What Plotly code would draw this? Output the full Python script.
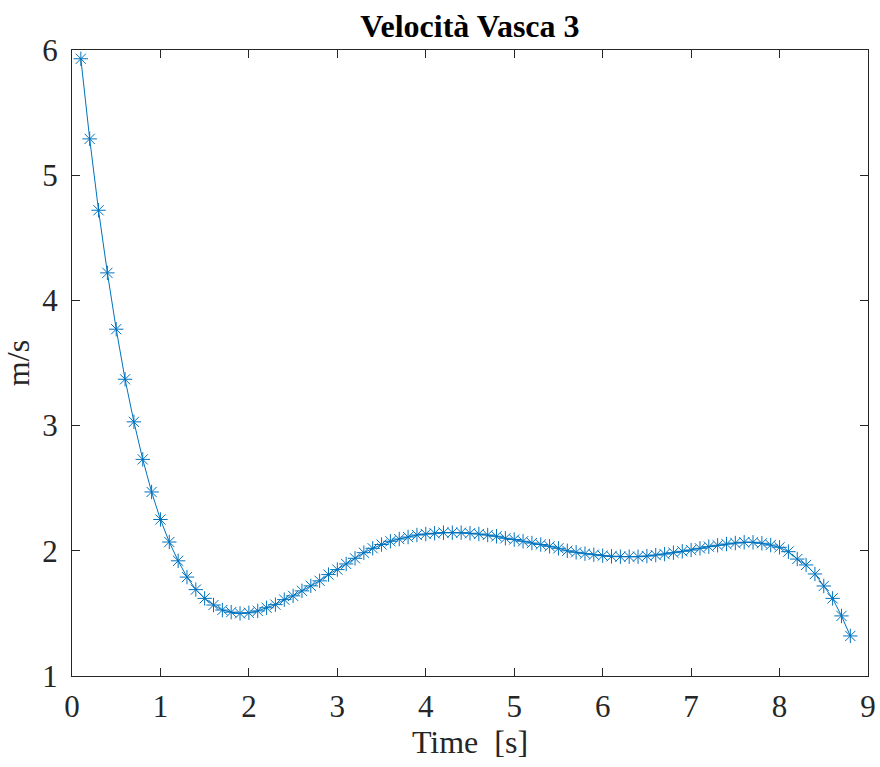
import plotly.graph_objects as go

time_s = [round(0.1 * i, 1) for i in range(1, 89)]
velocity = [
    5.93, 5.29, 4.72, 4.22, 3.77, 3.37, 3.03, 2.73, 2.47, 2.25,
    2.07, 1.92, 1.79, 1.69, 1.62, 1.567, 1.527, 1.51, 1.50, 1.505,
    1.52, 1.545, 1.57, 1.61, 1.64, 1.68, 1.72, 1.76, 1.81, 1.85,
    1.895, 1.94, 1.985, 2.02, 2.05, 2.076, 2.094, 2.11, 2.126, 2.134,
    2.14, 2.145, 2.145, 2.145, 2.14, 2.134, 2.126, 2.116, 2.10, 2.09,
    2.076, 2.062, 2.05, 2.036, 2.02, 2.00, 1.988, 1.977, 1.969, 1.961,
    1.956, 1.953, 1.953, 1.953, 1.958, 1.966, 1.974, 1.985, 1.996, 2.006,
    2.02, 2.033, 2.044, 2.054, 2.062, 2.068, 2.068, 2.06, 2.046, 2.028,
    1.993, 1.934, 1.887, 1.815, 1.719, 1.62, 1.48, 1.32,
]
x_ticks = [0, 1, 2, 3, 4, 5, 6, 7, 8, 9]
y_ticks = [1, 2, 3, 4, 5, 6]

serif = "Liberation Serif, Times New Roman, serif"
axis_col = "#262626"

fig = go.Figure(
    go.Scatter(
        x=time_s, y=velocity, mode="lines+markers",
        line=dict(color="#0072BD", width=1),
        marker=dict(symbol="asterisk-open", size=12,
                    line=dict(color="#0072BD", width=1)),
        showlegend=False,
    )
)

axis_common = dict(
    showline=True, linecolor=axis_col, linewidth=1, mirror="ticks",
    ticks="inside", ticklen=8, tickwidth=1, tickcolor=axis_col,
    showgrid=False, zeroline=False, automargin=False,
    tickfont=dict(family=serif, size=31, color=axis_col),
)

fig.update_layout(
    width=880, height=767,
    margin=dict(l=72, r=12, t=50, b=91),
    paper_bgcolor="white", plot_bgcolor="white",
    title=dict(text="<b>Velocità Vasca 3</b>", x=0.534, xanchor="center",
               y=0.967, yanchor="middle",
               font=dict(family=serif, size=32, color="black")),
    xaxis=dict(range=[0, 9], tickvals=x_ticks, ticklabelstandoff=3,
               title=dict(text="Time  [s]", standoff=6,
                          font=dict(family=serif, size=32, color=axis_col)),
               **axis_common),
    yaxis=dict(range=[1, 6], tickvals=y_ticks, ticklabelstandoff=7,
               title=dict(text="m/s", standoff=4,
                          font=dict(family=serif, size=32, color=axis_col)),
               **axis_common),
)

fig.write_html(
    "out.html",
    config={"displayModeBar": False},
    post_script="document.body.style.margin='0';document.body.style.overflow='hidden';",
)
